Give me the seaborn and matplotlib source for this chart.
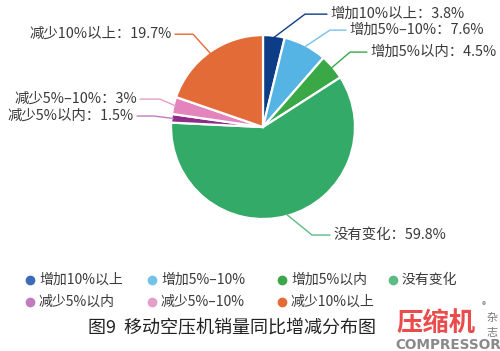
import numpy as np
import seaborn as sns
import matplotlib.pyplot as plt
from matplotlib.lines import Line2D

# data
categories = ["增加10%以上", "增加5%–10%", "增加5%以内", "没有变化",
              "减少5%以内", "减少5%–10%", "减少10%以上"]
shares = [3.8, 7.6, 4.5, 59.8, 1.5, 3, 19.7]
share_labels = ["3.8%", "7.6%", "4.5%", "59.8%", "1.5%", "3%", "19.7%"]

pie_colors = ["#0d3d87", "#55b4e4", "#3aa846", "#33aa68", "#8f2d8a", "#e384bd", "#e36b38"]
legend_colors = ["#3b6cb5", "#74c2e8", "#3ba64a", "#5dbb85", "#c17bbf", "#e59ec7", "#e56a35"]

# label layout (elbow point, line end) in pie units
elbows = [(0.457, 1.228), (0.728, 1.054), (0.946, 0.815), (0.533, -1.174),
          (-1.19, 0.12), (-1.12, 0.304), (-0.761, 1.01)]
line_ends = [0.696, 0.902, 1.13, 0.728, -1.37, -1.337, -0.957]

# legend layout in figure fraction (row-major, 4 per row)
leg_x = [0.06, 0.304, 0.564, 0.786]
leg_y = [0.202, 0.14]

sns.set_theme(style="white")
plt.rcParams["font.family"] = ["Noto Sans CJK SC", "DejaVu Sans"]
text_col = "#3a3a3a"

fig = plt.figure(figsize=(5, 3.51), dpi=100)
ax = fig.add_axes([0.526 - 0.184, 0.638 - 0.262, 0.368, 0.524])

wedges, _ = ax.pie(shares, colors=pie_colors, startangle=90, counterclock=False,
                   radius=1, wedgeprops=dict(edgecolor="white", linewidth=1.6))
ax.set_xlim(-1, 1)
ax.set_ylim(-1, 1)
ax.set_aspect("equal")
ax.axis("off")

for i, w in enumerate(wedges):
    ang = np.deg2rad((w.theta1 + w.theta2) / 2)
    x0, y0 = 0.98 * np.cos(ang), 0.98 * np.sin(ang)
    ex, ey = elbows[i]
    x2 = line_ends[i]
    ax.plot([x0, ex, x2], [y0, ey, ey], color=legend_colors[i] if i != 0 else pie_colors[0],
            lw=1.0, clip_on=False)
    ha = "left" if x2 > ex else "right"
    off = 0.035 if ha == "left" else -0.035
    ax.text(x2 + off, ey, categories[i] + "：" + share_labels[i], ha=ha, va="center",
            fontsize=10.4, color=text_col, clip_on=False)

# legend, filled row by row
for k, i in enumerate(range(len(categories))):
    row, col = divmod(k, 4)
    x, y = leg_x[col], leg_y[row]
    fig.add_artist(Line2D([x], [y], marker="o", linestyle="", markersize=6,
                          markerfacecolor=legend_colors[i], markeredgecolor=legend_colors[i],
                          transform=fig.transFigure))
    fig.text(x + 0.018, y, categories[i], fontsize=10, color=text_col,
             va="center", ha="left")

fig.text(0.176, 0.065, "图9  移动空压机销量同比增减分布图", fontsize=13,
         color="#222222", va="center", ha="left")

# magazine mark
fig.text(0.794, 0.078, "压缩机", fontsize=19, color="#ea4b4b", fontweight="bold",
         va="center", ha="left")
fig.text(0.79, 0.016, "COMPRESSOR", fontsize=9.8, color="#8a8a8a", fontweight="bold",
         family="DejaVu Sans", va="center", ha="left")
fig.text(0.973, 0.094, "杂", fontsize=8, color="#7a7a7a", va="center", ha="left")
fig.text(0.973, 0.052, "志", fontsize=8, color="#7a7a7a", va="center", ha="left")
fig.text(0.964, 0.128, "®", fontsize=6, color="#7a7a7a", va="center", ha="left")

fig.savefig("out.png", dpi=100)
